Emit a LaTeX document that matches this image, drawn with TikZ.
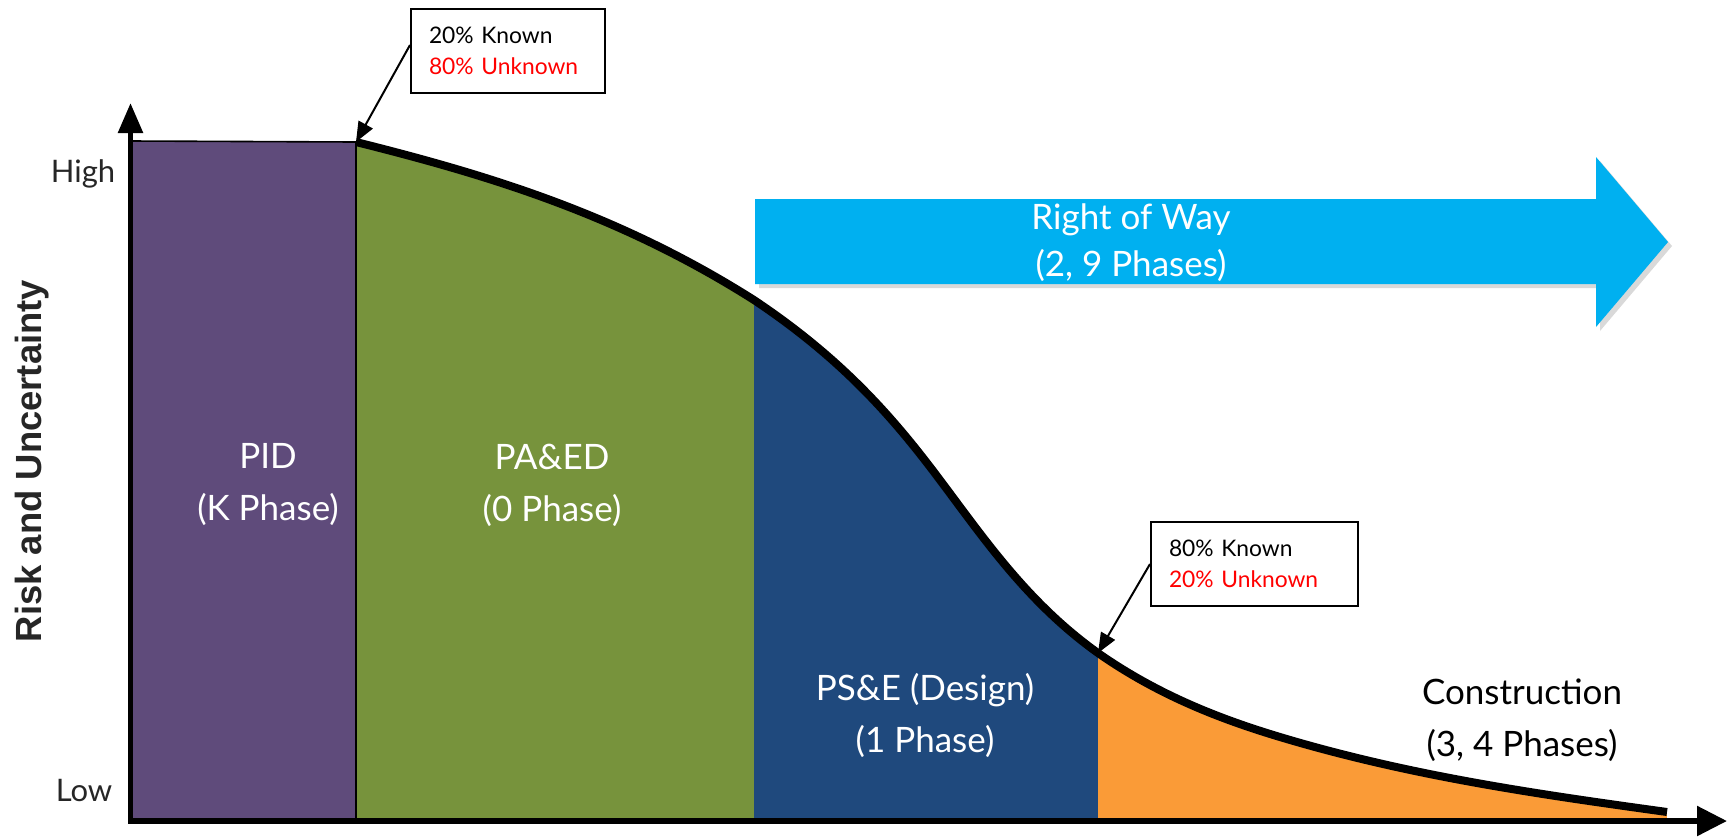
\documentclass[tikz,border=0pt]{standalone}
\usepackage{fontspec}
\setmainfont{Lato}
\newfontfamily\axisfont{Liberation Sans}
\usetikzlibrary{arrows.meta,shadows}
\definecolor{PIDPurple}{RGB}{95,75,123}
\definecolor{PAEDGreen}{RGB}{119,147,60}
\definecolor{PSEBlue}{RGB}{31,73,125}
\definecolor{ConsOrange}{RGB}{250,155,55}
\definecolor{ROWBlue}{RGB}{0,176,240}
\definecolor{AxisGray}{RGB}{38,38,38}
\tikzset{
    phaselabel/.style={align=center, text=white, inner sep=0pt, font=\fontsize{17.5}{26}\selectfont},
    calloutbox/.style={draw=black, line width=1pt, fill=white, align=left, inner xsep=9pt, inner ysep=0pt, minimum height=42pt, font=\fontsize{11.4}{15.5}\selectfont},
    calloutarrow/.style={-{Triangle[length=10pt,width=8pt]}, line width=1pt, black}
}
% duong cong rui ro (dung hai lan: cat va ve)
\newcommand\riskpath{(c0) .. controls (490,175.5) and (620,215) .. (c1)
    .. controls (844,360) and (895,420) .. (cm)
    .. controls (985,540) and (1028,603) .. (c2)
    .. controls (1158,695) and (1220,719) .. (cn)
    .. controls (1410,776) and (1537,794) .. (c3)}

\begin{document}
\begin{tikzpicture}[
        x=0.5pt, y=-0.5pt,
        % --- STYLE CHUNG ---
        axisline/.style={line width=2.75pt, black},
        riskcurve/.style={line width=4pt, black},
        levellabel/.style={text=AxisGray, inner sep=0pt, font=\fontsize{15.5}{18}\selectfont}
    ]
        \useasboundingbox (0,0) rectangle (1731,837);

        % --- DIEM TREN DUONG CONG ---
        \coordinate (c0) at (356,142);
        \coordinate (c1) at (754,300);
        \coordinate (cm) at (940,480);
        \coordinate (c2) at (1098,653);
        \coordinate (cn) at (1280,737);
        \coordinate (c3) at (1667,812);

        % --- VUNG MAU DUOI DUONG CONG ---
        \begin{scope}
            \clip \riskpath -- (1667,821) -- (356,821) -- cycle;
            \fill[PAEDGreen] (356,100) rectangle (754,821);
            \fill[PSEBlue] (754,100) rectangle (1098,821);
            \fill[ConsOrange] (1098,100) rectangle (1667,821);
        \end{scope}

        % PID (tim)
        \filldraw[fill=PIDPurple, draw=black, line width=0.8pt] (132,141) -- (c0) -- (356,821) -- (132,821) -- cycle;

        % --- DUONG CONG RUI RO ---
        \draw[riskcurve] \riskpath;

        % --- TRUC ---
        \draw[axisline, -{Triangle[length=15pt,width=12pt]}] (130.5,822) -- (130.5,103);
        \draw[axisline, -{Triangle[length=15pt,width=14.5pt]}] (128,821) -- (1727,821);

        \node[levellabel] (high) at (83,174) {High};
        \node[levellabel] (low) at (84,790) {Low};
        \node[rotate=90, text=AxisGray, inner sep=0pt, font=\axisfont\bfseries\fontsize{18.2}{20}\selectfont] (ylabel) at (32,461) {Risk and Uncertainty};

        % --- MUI TEN RIGHT OF WAY ---
        \fill[ROWBlue, drop shadow={shadow xshift=2pt, shadow yshift=-2pt, opacity=0.3}]
            (755,199) -- (1596,199) -- (1596,157) -- (1668,242) -- (1596,327) -- (1596,284) -- (755,284) -- cycle;
        \node[phaselabel, font=\fontsize{17.5}{23.5}\selectfont] (row) at (1131,243) {Right of Way\\(2, 9 Phases)};

        % --- NHAN GIAI DOAN ---
        \node[phaselabel] (pid) at (268,485) {PID\\(K Phase)};
        \node[phaselabel] (paed) at (552,485) {PA\&ED\\(0 Phase)};
        \node[phaselabel] (pse) at (925,715) {PS\&E (Design)\\(1 Phase)};
        \node[phaselabel, text=black] (cons) at (1522,720) {Construction\\(3, 4 Phases)};

        % --- HOP CHU THICH ---
        \node[calloutbox, text width=79pt] (known1) at (508,51) {20\% Known\\\textcolor{red}{80\% Unknown}};
        \node[calloutbox, text width=85.5pt] (known2) at (1254.5,564) {80\% Known\\\textcolor{red}{20\% Unknown}};
        \draw[calloutarrow] ([yshift=3pt]known1.west) -- (c0);
        \draw[calloutarrow] (known2.west) -- (c2);

    \end{tikzpicture}
\end{document}
